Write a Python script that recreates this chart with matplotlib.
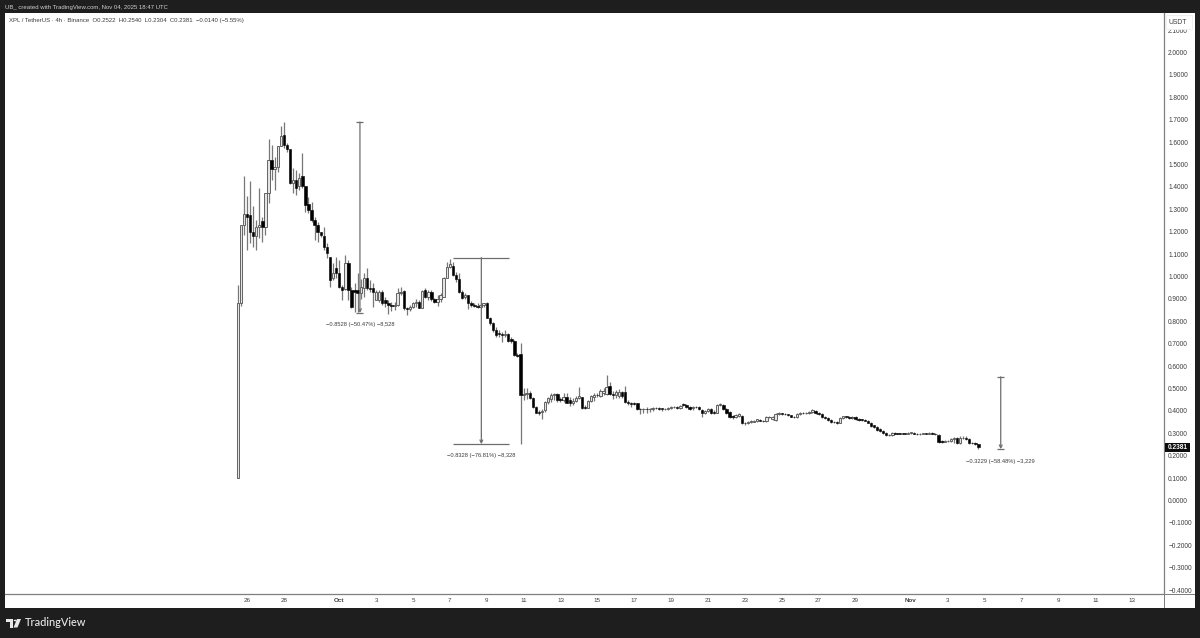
import pandas as pd
import matplotlib
matplotlib.use('Agg')
import matplotlib.pyplot as plt
import matplotlib.dates as mdates
from matplotlib.patches import Rectangle, Polygon, Circle

plt.rcParams['font.family'] = ['Liberation Sans', 'DejaVu Sans']

W, H = 1200, 638

start_time = '2025-09-25 12:00'

opens = [0.10, .882, 1.230, 1.279, 1.273, 1.200, 1.181, 1.222, 1.247, 1.222,
         1.371, 1.520, 1.478, 1.487, 1.582, 1.632, 1.587, 1.568, 1.419, 1.433,
         1.404, 1.450, 1.404, 1.323, 1.297, 1.252, 1.230, 1.200, 1.181, 1.130,
         1.088, .992, 1.036, 1.014, .954, .942, 1.062, .939, .939, .939,
         .925, .947, .992, .947, .947, .895, .895, .932, .895, .883,
         .873, .870, .873, .925, .937, .858, .853, .865, .880, .888,
         .861, .940, .910, .932, .898, .888, .898, .907, .992, 1.041,
         1.047, 1.007, .987, .932, .910, .917, .880, .873, .868, .865,
         .873, .883, .813, .791, .761, .746, .743, .741, .743, .720,
         .714, .650, .654, .471, .475, .481, .456, .416, .396, .396,
         .404, .441, .451, .471, .475, .451, .448, .463, .448, .434,
         .445, .459, .460, .419, .414, .445, .460, .472, .466, .478,
         .474, .511, .475, .471, .466, .483, .483, .441, .434, .434,
         .434, .408, .408, .410, .407, .408, .414, .414, .411, .407,
         .410, .411, .416, .416, .414, .431, .425, .419, .411, .419,
         .416, .404, .389, .401, .407, .396, .392, .426, .426, .407,
         .396, .377, .371, .377, .377, .347, .344, .352, .352, .356,
         .359, .356, .355, .371, .362, .359, .386, .389, .387, .385,
         .380, .374, .371, .386, .392, .389, .392, .395, .400, .392,
         .385, .374, .367, .359, .352, .349, .347, .367, .375, .372,
         .370, .371, .364, .361, .360, .356, .347, .335, .330, .318,
         .312, .303, .291, .292, .300, .299, .298, .300, .298, .302,
         .303, .299, .297, .298, .299, .298, .303, .299, .293, .266,
         .262, .264, .266, .274, .280, .258, .279, .281, .274, .258,
         .256, .2522]
highs = [.96, 1.232, 1.450, 1.358, 1.428, 1.314, 1.252, 1.393, 1.267, 1.371,
         1.612, 1.587, 1.535, 1.582, 1.672, 1.691, 1.595, 1.568, 1.483, 1.475,
         1.460, 1.553, 1.404, 1.356, 1.334, 1.267, 1.245, 1.200, 1.222, 1.148,
         1.088, 1.059, 1.088, 1.073, .962, 1.096, 1.073, .954, .969, 1.014,
         .99, 1.014, 1.036, .984, .969, .940, .940, .940, .910, .895,
         .888, .888, .947, .952, .940, .865, .873, .888, .898, .895,
         .940, .947, .940, .940, .903, .917, .925, .996, 1.066, 1.077,
         1.066, 1.022, 1.014, .940, .925, .917, .892, .880, .880, .883,
         .883, .888, .818, .798, .773, .761, .754, .761, .746, .731,
         .717, .657, .702, .500, .500, .490, .460, .422, .404, .407,
         .445, .460, .478, .481, .478, .463, .481, .478, .460, .456,
         .466, .508, .463, .426, .448, .471, .478, .481, .496, .500,
         .560, .530, .490, .493, .496, .490, .511, .448, .441, .441,
         .437, .411, .414, .419, .414, .419, .419, .418, .415, .414,
         .416, .421, .424, .421, .428, .436, .429, .423, .422, .424,
         .420, .408, .406, .412, .413, .402, .433, .437, .431, .412,
         .400, .381, .386, .392, .381, .351, .356, .360, .360, .366,
         .363, .360, .375, .378, .378, .392, .393, .392, .390, .388,
         .383, .377, .392, .397, .396, .396, .400, .409, .405, .396,
         .389, .378, .371, .364, .356, .353, .372, .379, .378, .376,
         .375, .376, .367, .365, .363, .360, .350, .339, .334, .322,
         .316, .307, .296, .304, .304, .302, .303, .303, .305, .307,
         .306, .302, .300, .302, .302, .306, .306, .302, .296, .270,
         .268, .272, .280, .285, .284, .286, .290, .286, .278, .262,
         .260, .2540]
lows = [.10, .87, 1.185, 1.118, 1.148, 1.133, 1.118, 1.170, 1.155, 1.185,
        1.326, 1.431, 1.386, 1.468, 1.582, 1.572, 1.557, 1.413, 1.371, 1.364,
        1.386, 1.393, 1.289, 1.282, 1.245, 1.163, 1.155, 1.178, 1.118, 1.081,
        .954, .984, .992, .947, .895, .939, .895, .858, .843, .843,
        .90, .910, .939, .932, .865, .895, .888, .873, .865, .833,
        .847, .850, .868, .917, .850, .828, .847, .858, .865, .858,
        .858, .903, .895, .892, .880, .868, .888, .907, .992, 1.036,
        1.002, .977, .928, .898, .900, .853, .865, .862, .858, .858,
        .865, .813, .784, .754, .728, .731, .709, .731, .709, .702,
        .645, .642, .252, .448, .451, .451, .411, .389, .381, .362,
        .396, .431, .441, .448, .441, .441, .441, .434, .422, .426,
        .441, .451, .410, .407, .411, .441, .445, .460, .463, .471,
        .471, .471, .451, .456, .456, .456, .437, .426, .419, .426,
        .404, .386, .389, .392, .396, .401, .407, .405, .401, .402,
        .405, .408, .411, .407, .408, .420, .415, .402, .406, .412,
        .403, .374, .385, .396, .388, .387, .389, .421, .403, .385,
        .370, .366, .367, .372, .341, .338, .340, .348, .349, .352,
        .353, .351, .352, .367, .358, .356, .383, .383, .381, .376,
        .371, .367, .368, .383, .385, .386, .388, .391, .388, .381,
        .368, .362, .354, .348, .344, .343, .344, .364, .367, .366,
        .366, .360, .357, .357, .353, .344, .328, .325, .312, .308,
        .299, .287, .287, .289, .296, .295, .295, .295, .295, .299,
        .296, .294, .294, .295, .295, .295, .295, .292, .258, .258,
        .259, .260, .262, .258, .252, .254, .275, .270, .251, .252,
        .248, .2304]
closes = [.882, 1.230, 1.279, 1.267, 1.200, 1.181, 1.222, 1.230, 1.222, 1.371,
          1.520, 1.478, 1.487, 1.582, 1.627, 1.587, 1.568, 1.419, 1.433, 1.393,
          1.438, 1.404, 1.319, 1.297, 1.252, 1.230, 1.200, 1.185, 1.130, 1.106,
          .984, 1.014, 1.014, .954, .939, 1.062, .939, .865, .932, .925,
          .954, .992, .947, .942, .932, .932, .932, .880, .883, .873,
          .870, .872, .925, .932, .858, .853, .865, .880, .888, .861,
          .937, .910, .932, .898, .888, .898, .917, .992, 1.041, 1.056,
          1.007, .987, .932, .903, .917, .880, .873, .868, .862, .873,
          .880, .813, .791, .761, .739, .743, .741, .743, .714, .714,
          .650, .647, .471, .475, .478, .456, .416, .392, .392, .399,
          .441, .456, .471, .475, .448, .448, .463, .437, .437, .445,
          .459, .466, .414, .414, .445, .466, .472, .471, .490, .490,
          .508, .475, .471, .486, .483, .466, .441, .434, .431, .431,
          .408, .407, .409, .407, .408, .414, .411, .410, .407, .410,
          .411, .416, .419, .411, .422, .425, .419, .407, .416, .416,
          .407, .389, .401, .407, .392, .392, .426, .431, .407, .389,
          .374, .371, .381, .386, .344, .344, .352, .355, .356, .362,
          .356, .355, .371, .374, .374, .386, .389, .387, .385, .380,
          .374, .371, .386, .392, .389, .392, .395, .404, .392, .385,
          .372, .367, .359, .352, .349, .347, .367, .375, .372, .370,
          .371, .364, .361, .360, .356, .347, .332, .328, .316, .312,
          .303, .291, .292, .300, .299, .298, .300, .298, .302, .303,
          .299, .297, .298, .299, .298, .303, .299, .295, .263, .262,
          .264, .267, .274, .281, .256, .279, .281, .274, .255, .256,
          .252, .2381]

price_ticks = [2.1, 2.0, 1.9, 1.8, 1.7, 1.6, 1.5, 1.4, 1.3, 1.2, 1.1, 1.0, 0.9, 0.8, 0.7, 0.6,
               0.5, 0.4, 0.3, 0.2, 0.1, 0.0, -0.1, -0.2, -0.3, -0.4]
time_tick_dates = ['2025-09-26', '2025-09-28', '2025-10-01', '2025-10-03', '2025-10-05', '2025-10-07',
                   '2025-10-09', '2025-10-11', '2025-10-13', '2025-10-15', '2025-10-17', '2025-10-19',
                   '2025-10-21', '2025-10-23', '2025-10-25', '2025-10-27', '2025-10-29', '2025-11-01',
                   '2025-11-03', '2025-11-05', '2025-11-07', '2025-11-09', '2025-11-11', '2025-11-13']
time_tick_labels = ['26', '28', 'Oct', '3', '5', '7', '9', '11', '13', '15', '17', '19', '21', '23',
                    '25', '27', '29', 'Nov', '3', '5', '7', '9', '11', '13']

# measure tools: time, top price, bottom price, label
tool_times = ['2025-10-02 03:00', '2025-10-08 17:00', '2025-11-05 21:00']
tool_tops = [1.6897, 1.0842, 0.5522]
tool_bottoms = [0.8369, 0.2514, 0.2293]
tool_labels = ['−0.8528 (−50.47%) −8,528', '−0.8328 (−76.81%) −8,328', '−0.3229 (−58.48%) −3,229']
tool_label_prices = [0.7875, 0.199, 0.175]
tool_cap_days = [0.19, 1.52, 0.19]

dark = '#1e1e1e'
line_grey = '#7f7f7f'
text_col = '#3c3c3c'

fig = plt.figure(figsize=(W / 100, H / 100), dpi=100, facecolor=dark)


def add_rect(x0, y0, x1, y1, **kw):
    fig.add_artist(Rectangle((x0 / W, 1 - y1 / H), (x1 - x0) / W, (y1 - y0) / H,
                             transform=fig.transFigure, **kw))


def add_text(x, y, s, **kw):
    fig.text(x / W, 1 - y / H, s, va='center', **kw)


add_rect(5, 13, 1195, 607.5, facecolor='white', edgecolor='none', zorder=-1)

ax = fig.add_axes([5 / W, 1 - 594 / H, (1164 - 5) / W, (594 - 13) / H], facecolor='white')

times = pd.date_range(start_time, periods=len(closes), freq='4h')
t = mdates.date2num(times)
df = pd.DataFrame({'t': t, 'o': opens, 'h': highs, 'l': lows, 'c': closes})

ax.vlines(df['t'], df['l'], df['h'], color='#777777', linewidth=0.9, zorder=2)
up = df[df['c'] >= df['o']]
down = df[df['c'] < df['o']]
px_per_day = 18.44
bar_w = 2.4 / px_per_day
ax.bar(up['t'], (up['c'] - up['o']).clip(lower=0.002), bottom=up['o'], width=bar_w,
       facecolor='#e4e4e4', edgecolor='#5a5a5a', linewidth=0.65, zorder=3)
ax.bar(down['t'], (down['o'] - down['c']).clip(lower=0.002), bottom=down['c'], width=bar_w,
       facecolor='black', edgecolor='black', linewidth=0.4, zorder=3)

for tt, top, bot, lab, lab_p, cap in zip(tool_times, tool_tops, tool_bottoms, tool_labels,
                                         tool_label_prices, tool_cap_days):
    x = mdates.date2num(pd.Timestamp(tt))
    ax.hlines([top, bot], x - cap, x + cap, color='#6e6e6e', linewidth=0.9, zorder=4)
    ax.annotate('', xy=(x, bot), xytext=(x, top),
                arrowprops=dict(arrowstyle='->', color='#6e6e6e', lw=0.9, mutation_scale=5,
                                shrinkA=0, shrinkB=0), zorder=4)
    ax.text(x, lab_p, lab, ha='center', va='center', fontsize=4.15, color=text_col)

day0 = mdates.date2num(pd.Timestamp('2025-09-26'))
ax.set_xlim(day0 + (5 - 247) / px_per_day, day0 + (1164 - 247) / px_per_day)
ax.set_ylim(2 - (594 - 52.5) / 224, 2 + (52.5 - 13) / 224)

ax.yaxis.tick_right()
ax.set_yticks(price_ticks)
ax.set_yticklabels([f'{p:.4f}'.replace('-', '−') for p in price_ticks], fontsize=4.7, color=text_col)
ax.set_xticks(mdates.date2num(pd.to_datetime(time_tick_dates)))
ax.set_xticklabels(time_tick_labels, fontsize=4.5, color=text_col)
for lab in ax.get_xticklabels():
    if lab.get_text() in ('Oct', 'Nov'):
        lab.set_fontweight('bold')
ax.tick_params(axis='both', length=0)
ax.tick_params(axis='y', pad=3)
ax.tick_params(axis='x', pad=3.2)

for name in ['top', 'left']:
    ax.spines[name].set_visible(False)
for name in ['right', 'bottom']:
    ax.spines[name].set_color(line_grey)
    ax.spines[name].set_linewidth(0.9)

# right/bottom corner of the axis panels
add_rect(1163.6, 594, 1164.6, 607.5, facecolor=line_grey, edgecolor='none', zorder=4)
add_rect(1164, 593.6, 1195, 594.6, facecolor=line_grey, edgecolor='none', zorder=4)

# USDT box sits over the clipped 2.1000 label
add_rect(1166, 15, 1192, 29, facecolor='white', edgecolor='#eeeeee', linewidth=0.6, zorder=5)
add_text(1178, 22.5, 'USDT', ha='center', fontsize=4.9, color=text_col, zorder=6)

# last price tag
add_rect(1164.6, 443, 1189.5, 452, facecolor='#0d0d0d', edgecolor='none', zorder=5)
add_text(1168, 447.6, '0.2381', ha='left', fontsize=4.7, color='white', fontweight='bold', zorder=6)

add_text(5, 7.5, 'UB_ created with TradingView.com, Nov 04, 2025 18:47 UTC', ha='left',
         fontsize=4.3, color='#cfcfcf')
add_text(9, 20.5, 'XPL / TetherUS · 4h · Binance  O0.2522  H0.2540  L0.2304  C0.2381  −0.0140 (−5.55%)',
         ha='left', fontsize=4.3, color=text_col)

# TradingView footer logo
logo_col = '#e8e8e8'
add_rect(6, 619, 13, 622, facecolor=logo_col, edgecolor='none')
add_rect(10, 619, 13, 627.5, facecolor=logo_col, edgecolor='none')
fig.add_artist(Circle((15.2 / W, 1 - 620.5 / H), 1.5 / W, transform=fig.transFigure,
                      facecolor=logo_col, edgecolor='none'))
fig.add_artist(Polygon([(17 / W, 1 - 619 / H), (21 / W, 1 - 619 / H), (17.5 / W, 1 - 627.5 / H),
                        (13.5 / W, 1 - 627.5 / H)], closed=True, transform=fig.transFigure,
                       facecolor=logo_col, edgecolor='none'))
add_text(24.5, 623, 'TradingView', ha='left', fontsize=7.95, color=logo_col, family='Lato', fontweight='medium')

plt.savefig('out.png', dpi=100, facecolor=dark)
